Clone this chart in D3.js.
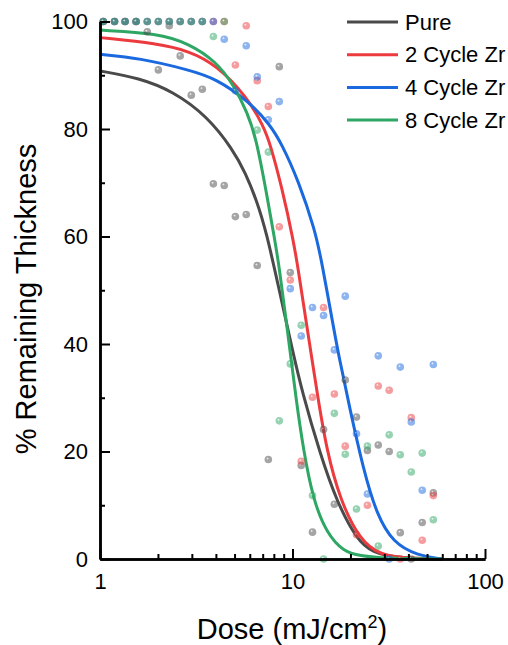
<!DOCTYPE html>
<html>
<head>
<meta charset="utf-8">
<script src="https://cdn.jsdelivr.net/npm/d3@7"></script>
<style>
  html, body { margin: 0; padding: 0; background: #fff; }
  svg { display: block; font-family: "Liberation Sans", Arial, sans-serif; }
</style>
</head>
<body>
<div id="chart"></div>
<script>
// Dose grid (mJ/cm2) shared by all measured series
const doses = [1.04, 1.19, 1.35, 1.54, 1.76, 2.01, 2.29, 2.61, 2.98, 3.40, 3.88, 4.42, 5.05, 5.75,
  6.56, 7.49, 8.54, 9.74, 11.1, 12.7, 14.5, 16.5, 18.8, 21.5, 24.5, 27.9, 31.8, 36.3, 41.4, 47.2, 53.9];

// % remaining thickness, measured points (null = no point visible)
const pure = [100, 100, 100, 100, 98.1, 91.0, 99.2, 93.6, 86.3, 87.4, 69.8, 69.5, 63.7, 64.1, 54.6,
  18.5, 91.6, 53.3, 17.4, 5.0, 24.1, 10.2, 33.3, 26.4, 20.2, 21.2, 20.0, 4.9, 0, 6.8, 12.3];
const cycle2 = [100, 100, 100, 100, 100, 100, 100, 100, 100, 100, 100, 100, 91.9, 99.2, 89.0,
  84.2, 61.8, 51.9, 18.2, 30.1, 46.8, 30.7, 21.0, 4.5, 10.0, 32.2, 31.4, 0, 26.3, 3.5, 11.8];
const cycle4 = [100, 100, 100, 100, 100, 100, 100, 100, 100, 100, 100, 96.7, 87.1, 95.5, 89.7,
  81.7, 85.1, 50.3, 41.5, 46.8, 45.3, 38.9, 48.9, 23.3, 12.1, 37.8, 0, 35.7, 25.5, 12.8, 36.2];
const cycle8 = [100, 100, 100, 100, 100, 100, 100, 100, 100, 100, 97.2, 100, null, null, 79.8,
  75.7, 25.7, 36.3, 43.5, 11.8, 0, 27.1, 19.5, 9.3, 21.0, 2.4, 23.1, 19.4, 16.2, 19.7, 7.3];

// fitted curves, sampled off the figure
const pureFitDose = [1, 1.6, 2.4, 3.6, 4.9, 5.7, 6.5, 7.3, 8.6, 10, 11.2, 13.9, 17, 21.6, 26, 35, 60];
const pureFit = [90.8, 89.5, 87.0, 82.4, 76.2, 71.8, 66.8, 61.0, 49.5, 38.8, 31.2, 19.6, 10.6, 3.6, 1.2, 0.2, 0];
const cycle2FitDose = [1, 2, 2.9, 4, 5.8, 7.05, 7.65, 8.8, 10.1, 10.7, 11.85, 13.6, 15.05, 17.65, 22.4, 28.5, 40, 60];
const cycle2Fit = [97.0, 95.9, 94.5, 92.0, 86.0, 80.6, 77.3, 69.2, 59.3, 54.0, 43.5, 29.6, 20.3, 11.0, 3.5, 0.7, 0.1, 0];
const cycle4FitDose = [1, 1.6, 2.9, 4, 5.9, 7.65, 8.8, 10.7, 13.1, 14.2, 16.2, 17.3, 19.9, 23.3, 27.4, 33.4, 44.2, 60];
const cycle4Fit = [93.9, 93.2, 91.0, 89.4, 85.2, 80.8, 77.2, 70.5, 61.2, 55.2, 43.8, 38.2, 27.8, 16.8, 8.2, 3.0, 0.7, 0];
const cycle8FitDose = [1, 2, 2.9, 4, 4.95, 5.85, 6.45, 7.2, 8.1, 8.5, 9.35, 10.5, 11.4, 12.8, 15.05, 18.4, 22.4, 30, 60];
const cycle8Fit = [98.4, 97.8, 95.9, 92.6, 88.2, 82.9, 78.4, 69.6, 59.3, 54.7, 43.4, 29.0, 20.3, 11.0, 4.8, 1.4, 0.6, 0.1, 0];

const seriesNames = ['Pure', '2 Cycle Zr', '4 Cycle Zr', '8 Cycle Zr'];
const seriesColors = ['#4a4a4a', '#ec3a3e', '#1b69de', '#2ea664'];

const xMajor = [1, 10, 100];
const xMinor = [2, 3, 4, 5, 6, 7, 8, 9, 20, 30, 40, 50, 60, 70, 80, 90];
const yMajor = [0, 20, 40, 60, 80, 100];
const yMinor = [10, 30, 50, 70, 90];

const series = [
  { name: seriesNames[0], color: seriesColors[0], values: pure, fitX: pureFitDose, fitY: pureFit },
  { name: seriesNames[1], color: seriesColors[1], values: cycle2, fitX: cycle2FitDose, fitY: cycle2Fit },
  { name: seriesNames[2], color: seriesColors[2], values: cycle4, fitX: cycle4FitDose, fitY: cycle4Fit },
  { name: seriesNames[3], color: seriesColors[3], values: cycle8, fitX: cycle8FitDose, fitY: cycle8Fit }
];

const width = 508;
const height = 645;

const svg = d3.select('#chart')
  .append('svg')
  .attr('width', width)
  .attr('height', height);

const x = d3.scaleLog().domain([1, 100]).range([100, 485]);
const y = d3.scaleLinear().domain([0, 100]).range([559, 21.5]);

// sphere-ish gradients for the markers
const defs = svg.append('defs');
series.forEach((s, i) => {
  const grad = defs.append('radialGradient')
    .attr('id', `dot-${i}`)
    .attr('cx', '50%').attr('cy', '50%').attr('r', '50%')
    .attr('fx', '35%').attr('fy', '32%');
  grad.append('stop').attr('offset', '0%').attr('stop-color', '#fff').attr('stop-opacity', 0.9);
  grad.append('stop').attr('offset', '35%').attr('stop-color', s.color);
  grad.append('stop').attr('offset', '100%').attr('stop-color', s.color);
});

// Fitted curves (B-spline smooths the hand-read samples)
const line = d3.line()
  .x(d => x(d[0]))
  .y(d => y(d[1]))
  .curve(d3.curveBasis);

svg.append('g')
  .attr('class', 'fits')
  .selectAll('path')
  .data(series)
  .enter()
  .append('path')
  .attr('fill', 'none')
  .attr('stroke', d => d.color)
  .attr('stroke-width', 3)
  .attr('d', d => line(d.fitX.map((v, j) => [v, d.fitY[j]])));

// Measured points
series.forEach((s, i) => {
  const pts = doses.map((dv, j) => ({ dose: dv, value: s.values[j] }))
    .filter(p => p.value !== null);

  svg.append('g')
    .attr('class', 'points')
    .selectAll('circle')
    .data(pts)
    .enter()
    .append('circle')
    .attr('cx', d => x(d.dose))
    .attr('cy', d => y(d.value))
    .attr('r', 3.8)
    .attr('fill', `url(#dot-${i})`)
    .attr('opacity', 0.5);
});

// Axes
function styleAxis(g) {
  g.select('.domain').attr('stroke', '#000').attr('stroke-width', 2.5);
  g.selectAll('.tick line').attr('stroke', '#000').attr('stroke-width', 2);
  g.selectAll('.tick text').attr('fill', '#000').style('font-size', '22px');
}

svg.append('g')
  .attr('transform', 'translate(0, 559)')
  .call(d3.axisBottom(x).tickValues(xMinor).tickFormat('').tickSizeInner(-5).tickSizeOuter(0))
  .call(styleAxis);

svg.append('g')
  .attr('transform', 'translate(0, 559)')
  .call(d3.axisBottom(x).tickValues(xMajor).tickFormat(d3.format('d')).tickSizeInner(-10).tickSizeOuter(0).tickPadding(14))
  .call(styleAxis);

svg.append('g')
  .attr('transform', 'translate(100, 0)')
  .call(d3.axisLeft(y).tickValues(yMinor).tickFormat('').tickSizeInner(-5).tickSizeOuter(0))
  .call(styleAxis);

svg.append('g')
  .attr('transform', 'translate(100, 0)')
  .call(d3.axisLeft(y).tickValues(yMajor).tickFormat(d3.format('d')).tickSizeInner(-10).tickSizeOuter(0).tickPadding(12))
  .call(styleAxis);

// Axis titles
const xTitle = svg.append('text')
  .attr('x', 292)
  .attr('y', 639)
  .attr('text-anchor', 'middle')
  .style('font-size', '29px')
  .attr('fill', '#000');
xTitle.append('tspan').text('Dose (mJ/cm');
xTitle.append('tspan').attr('dy', -11).style('font-size', '18px').text('2');
xTitle.append('tspan').attr('dy', 11).text(')');

svg.append('text')
  .attr('transform', 'translate(36, 299) rotate(-90)')
  .attr('text-anchor', 'middle')
  .style('font-size', '29px')
  .attr('fill', '#000')
  .text('% Remaining Thickness');

// Legend
const legend = svg.append('g')
  .attr('class', 'legend')
  .attr('transform', 'translate(347, 22)');

const legendItems = legend.selectAll('g')
  .data(series)
  .enter()
  .append('g')
  .attr('transform', (d, i) => `translate(0, ${i * 32.7})`);

legendItems.append('line')
  .attr('x1', 0)
  .attr('x2', 51)
  .attr('stroke', d => d.color)
  .attr('stroke-width', 3);

legendItems.append('text')
  .attr('x', 58)
  .attr('dy', '0.35em')
  .style('font-size', '22px')
  .attr('fill', '#000')
  .text(d => d.name);
</script>
</body>
</html>
